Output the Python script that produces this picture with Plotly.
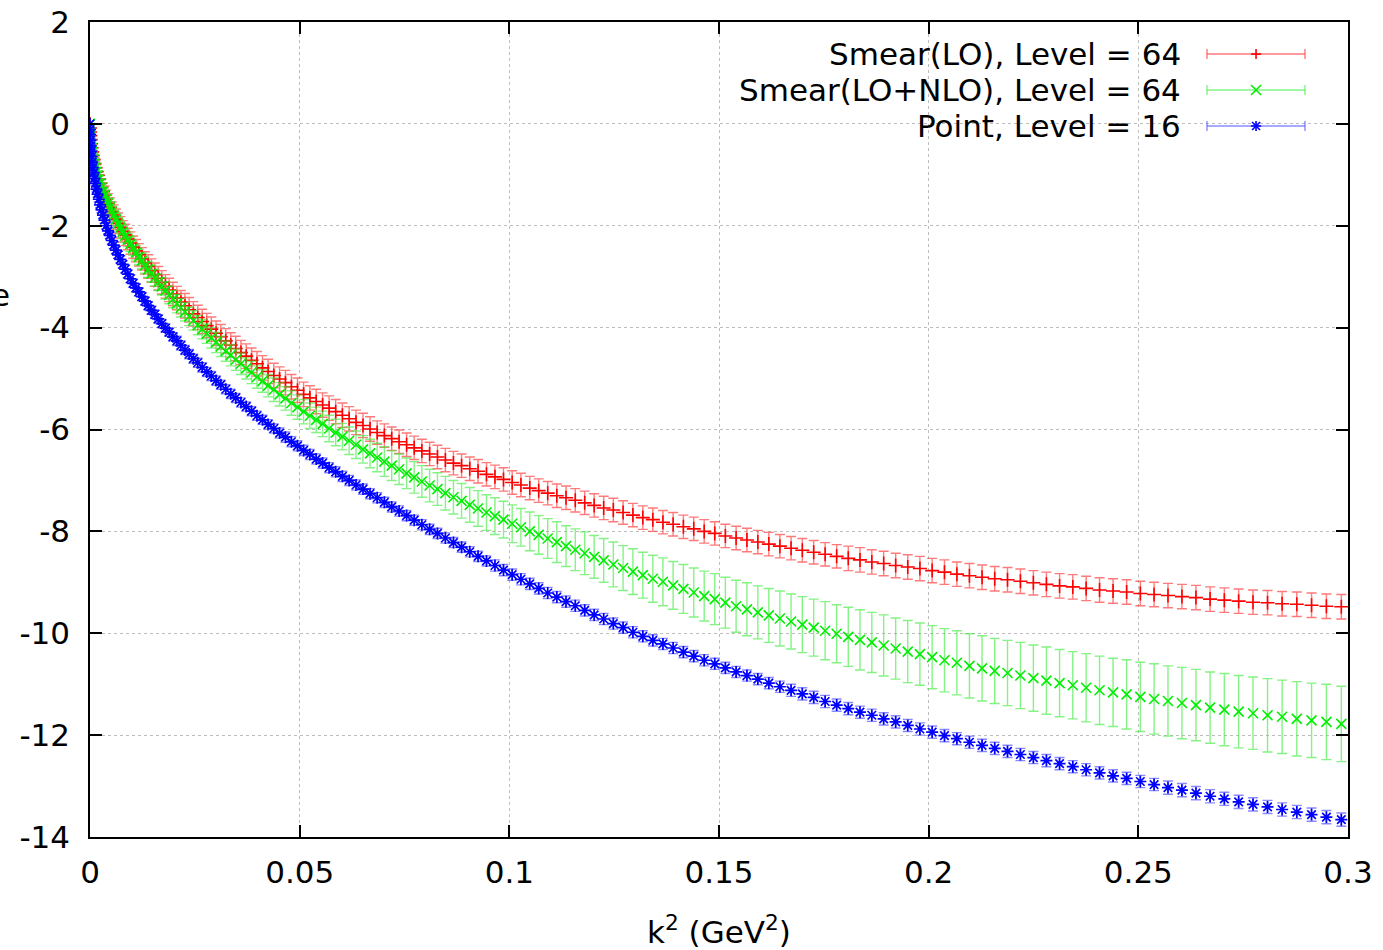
import plotly.graph_objects as go

# ---------------- data ----------------
k2 = [
    0.0, 0.00001, 0.00004, 0.0001, 0.00017, 0.00027, 0.00039, 0.00052, 0.00068, 0.00087,
    0.00107, 0.00129, 0.00154, 0.00181, 0.0021, 0.00241, 0.00274, 0.00309, 0.00347, 0.00386,
    0.00428, 0.00472, 0.00518, 0.00566, 0.00616, 0.00669, 0.00723, 0.0078, 0.00839, 0.009,
    0.00963, 0.01028, 0.01096, 0.01165, 0.01237, 0.01311, 0.01387, 0.01465, 0.01545, 0.01627,
    0.01712, 0.01799, 0.01887, 0.01978, 0.02072, 0.02167, 0.02264, 0.02364, 0.02465, 0.02569,
    0.02675, 0.02783, 0.02893, 0.03006, 0.0312, 0.03237, 0.03356, 0.03476, 0.03599, 0.03725,
    0.03852, 0.03981, 0.04113, 0.04247, 0.04383, 0.04521, 0.04661, 0.04803, 0.04948, 0.05094,
    0.05243, 0.05394, 0.05547, 0.05702, 0.05859, 0.06019, 0.0618, 0.06344, 0.0651, 0.06678,
    0.06848, 0.0702, 0.07195, 0.07371, 0.0755, 0.07731, 0.07914, 0.08099, 0.08286, 0.08475,
    0.08667, 0.08861, 0.09056, 0.09254, 0.09455, 0.09657, 0.09861, 0.10068, 0.10276, 0.10487,
    0.107, 0.10915, 0.11132, 0.11352, 0.11573, 0.11797, 0.12023, 0.1225, 0.1248, 0.12713,
    0.12947, 0.13183, 0.13422, 0.13663, 0.13906, 0.14151, 0.14398, 0.14647, 0.14899, 0.15152,
    0.15408, 0.15666, 0.15926, 0.16188, 0.16452, 0.16719, 0.16987, 0.17258, 0.17531, 0.17806,
    0.18083, 0.18362, 0.18644, 0.18927, 0.19213, 0.19501, 0.19791, 0.20083, 0.20377, 0.20673,
    0.20972, 0.21273, 0.21575, 0.2188, 0.22188, 0.22497, 0.22808, 0.23122, 0.23437, 0.23755,
    0.24075, 0.24397, 0.24721, 0.25048, 0.25376, 0.25707, 0.2604, 0.26374, 0.26711, 0.27051,
    0.27392, 0.27735, 0.28081, 0.28429, 0.28779, 0.29131, 0.29485, 0.29841,
]

smear_lo_y = [
    0.00, -0.08, -0.16, -0.23, -0.31, -0.39, -0.47, -0.55, -0.62, -0.70,
    -0.78, -0.86, -0.94, -1.01, -1.09, -1.17, -1.25, -1.33, -1.40, -1.48,
    -1.56, -1.64, -1.72, -1.79, -1.87, -1.95, -2.03, -2.11, -2.18, -2.26,
    -2.34, -2.42, -2.49, -2.57, -2.65, -2.73, -2.80, -2.88, -2.96, -3.03,
    -3.11, -3.19, -3.26, -3.34, -3.42, -3.50, -3.57, -3.65, -3.73, -3.80,
    -3.88, -3.96, -4.03, -4.11, -4.18, -4.26, -4.34, -4.41, -4.49, -4.56,
    -4.64, -4.71, -4.79, -4.86, -4.94, -5.01, -5.08, -5.16, -5.23, -5.31,
    -5.38, -5.45, -5.52, -5.58, -5.65, -5.72, -5.79, -5.86, -5.92, -5.99,
    -6.06, -6.12, -6.18, -6.24, -6.30, -6.36, -6.42, -6.48, -6.54, -6.60,
    -6.66, -6.71, -6.77, -6.82, -6.88, -6.93, -6.98, -7.04, -7.09, -7.15,
    -7.20, -7.25, -7.30, -7.34, -7.39, -7.44, -7.49, -7.54, -7.58, -7.63,
    -7.68, -7.73, -7.77, -7.82, -7.86, -7.91, -7.95, -8.00, -8.04, -8.09,
    -8.13, -8.17, -8.21, -8.25, -8.29, -8.33, -8.37, -8.41, -8.45, -8.49,
    -8.53, -8.56, -8.60, -8.63, -8.67, -8.70, -8.73, -8.77, -8.80, -8.84,
    -8.87, -8.90, -8.93, -8.95, -8.98, -9.01, -9.04, -9.07, -9.09, -9.12,
    -9.15, -9.17, -9.19, -9.22, -9.24, -9.26, -9.28, -9.30, -9.33, -9.35,
    -9.37, -9.39, -9.40, -9.42, -9.43, -9.45, -9.47, -9.48,
]
smear_lo_err = [
    0.00, 0.02, 0.04, 0.05, 0.06, 0.07, 0.08, 0.09, 0.10, 0.11,
    0.12, 0.13, 0.14, 0.15, 0.15, 0.16, 0.17, 0.17, 0.18, 0.18,
    0.19, 0.19, 0.19, 0.20, 0.20, 0.20, 0.21, 0.21, 0.21, 0.21,
    0.22, 0.22, 0.22, 0.22, 0.22, 0.22, 0.23, 0.23, 0.23, 0.23,
    0.23, 0.23, 0.23, 0.23, 0.23, 0.23, 0.24, 0.24, 0.24, 0.24,
    0.24, 0.24, 0.24, 0.24, 0.24, 0.24, 0.24, 0.24, 0.24, 0.24,
    0.24, 0.24, 0.24, 0.24, 0.24, 0.24, 0.24, 0.24, 0.24, 0.24,
    0.24, 0.24, 0.24, 0.24, 0.24, 0.24, 0.24, 0.24, 0.24, 0.24,
    0.23, 0.23, 0.23, 0.23, 0.23, 0.23, 0.23, 0.23, 0.23, 0.23,
    0.23, 0.23, 0.23, 0.23, 0.23, 0.23, 0.23, 0.23, 0.23, 0.23,
    0.23, 0.23, 0.23, 0.23, 0.23, 0.23, 0.23, 0.23, 0.23, 0.23,
    0.23, 0.23, 0.23, 0.23, 0.23, 0.23, 0.23, 0.23, 0.23, 0.23,
    0.23, 0.23, 0.23, 0.23, 0.23, 0.23, 0.23, 0.23, 0.23, 0.23,
    0.24, 0.24, 0.24, 0.24, 0.24, 0.24, 0.24, 0.24, 0.24, 0.24,
    0.24, 0.24, 0.24, 0.24, 0.24, 0.24, 0.24, 0.24, 0.24, 0.24,
    0.24, 0.24, 0.24, 0.24, 0.24, 0.24, 0.24, 0.24, 0.24, 0.24,
    0.24, 0.24, 0.24, 0.24, 0.24, 0.24, 0.24, 0.24,
]

smear_nlo_y = [
    0.00, -0.08, -0.16, -0.23, -0.31, -0.39, -0.47, -0.55, -0.62, -0.70,
    -0.78, -0.86, -0.94, -1.01, -1.09, -1.17, -1.25, -1.33, -1.40, -1.48,
    -1.56, -1.64, -1.72, -1.80, -1.88, -1.96, -2.04, -2.12, -2.20, -2.28,
    -2.36, -2.44, -2.53, -2.61, -2.69, -2.78, -2.86, -2.94, -3.02, -3.11,
    -3.19, -3.27, -3.36, -3.44, -3.53, -3.61, -3.69, -3.78, -3.86, -3.95,
    -4.03, -4.12, -4.20, -4.29, -4.37, -4.46, -4.54, -4.63, -4.71, -4.80,
    -4.88, -4.97, -5.05, -5.14, -5.22, -5.31, -5.39, -5.48, -5.56, -5.65,
    -5.73, -5.81, -5.89, -5.98, -6.06, -6.14, -6.22, -6.30, -6.39, -6.47,
    -6.55, -6.63, -6.71, -6.78, -6.86, -6.94, -7.02, -7.10, -7.17, -7.25,
    -7.33, -7.40, -7.48, -7.55, -7.63, -7.70, -7.77, -7.85, -7.92, -8.00,
    -8.07, -8.14, -8.21, -8.29, -8.36, -8.43, -8.50, -8.57, -8.65, -8.72,
    -8.79, -8.86, -8.93, -8.99, -9.06, -9.13, -9.20, -9.27, -9.33, -9.40,
    -9.47, -9.53, -9.59, -9.65, -9.71, -9.77, -9.83, -9.89, -9.95, -10.01,
    -10.07, -10.13, -10.18, -10.24, -10.30, -10.36, -10.41, -10.47, -10.53, -10.58,
    -10.64, -10.69, -10.74, -10.78, -10.83, -10.88, -10.93, -10.98, -11.02, -11.07,
    -11.12, -11.16, -11.20, -11.25, -11.29, -11.33, -11.37, -11.41, -11.46, -11.50,
    -11.54, -11.57, -11.61, -11.64, -11.68, -11.71, -11.74, -11.78,
]
smear_nlo_err = [
    0.00, 0.01, 0.02, 0.03, 0.03, 0.04, 0.04, 0.05, 0.05, 0.06,
    0.06, 0.07, 0.07, 0.08, 0.08, 0.08, 0.09, 0.09, 0.10, 0.10,
    0.10, 0.11, 0.11, 0.11, 0.12, 0.12, 0.12, 0.13, 0.13, 0.13,
    0.14, 0.14, 0.14, 0.15, 0.15, 0.15, 0.15, 0.16, 0.16, 0.16,
    0.17, 0.17, 0.17, 0.17, 0.18, 0.18, 0.18, 0.18, 0.19, 0.19,
    0.19, 0.19, 0.20, 0.20, 0.20, 0.20, 0.21, 0.21, 0.21, 0.21,
    0.22, 0.22, 0.22, 0.22, 0.23, 0.23, 0.23, 0.24, 0.24, 0.24,
    0.25, 0.25, 0.25, 0.26, 0.26, 0.26, 0.27, 0.27, 0.27, 0.28,
    0.28, 0.29, 0.29, 0.30, 0.30, 0.31, 0.31, 0.32, 0.32, 0.33,
    0.33, 0.34, 0.34, 0.35, 0.35, 0.36, 0.36, 0.37, 0.37, 0.38,
    0.38, 0.39, 0.40, 0.40, 0.41, 0.42, 0.42, 0.43, 0.44, 0.44,
    0.45, 0.45, 0.46, 0.47, 0.47, 0.48, 0.48, 0.49, 0.50, 0.50,
    0.51, 0.52, 0.52, 0.53, 0.54, 0.54, 0.55, 0.56, 0.57, 0.57,
    0.58, 0.59, 0.59, 0.60, 0.60, 0.61, 0.61, 0.62, 0.62, 0.63,
    0.63, 0.64, 0.64, 0.64, 0.65, 0.65, 0.66, 0.66, 0.66, 0.67,
    0.67, 0.67, 0.68, 0.68, 0.69, 0.69, 0.70, 0.70, 0.70, 0.71,
    0.71, 0.71, 0.72, 0.72, 0.73, 0.73, 0.74, 0.74,
]

point_y = [
    0.00, -0.11, -0.21, -0.32, -0.43, -0.54, -0.64, -0.75, -0.86, -0.96,
    -1.07, -1.17, -1.28, -1.38, -1.48, -1.59, -1.69, -1.79, -1.89, -2.00,
    -2.10, -2.19, -2.29, -2.38, -2.48, -2.57, -2.66, -2.76, -2.85, -2.95,
    -3.04, -3.13, -3.22, -3.30, -3.39, -3.48, -3.57, -3.66, -3.74, -3.83,
    -3.92, -4.01, -4.09, -4.18, -4.26, -4.35, -4.44, -4.52, -4.61, -4.69,
    -4.78, -4.87, -4.95, -5.04, -5.12, -5.21, -5.30, -5.38, -5.47, -5.55,
    -5.64, -5.73, -5.81, -5.90, -5.98, -6.07, -6.15, -6.24, -6.32, -6.41,
    -6.49, -6.58, -6.66, -6.75, -6.83, -6.92, -7.00, -7.09, -7.17, -7.26,
    -7.34, -7.43, -7.52, -7.60, -7.69, -7.78, -7.87, -7.96, -8.04, -8.13,
    -8.22, -8.31, -8.40, -8.49, -8.58, -8.67, -8.76, -8.85, -8.94, -9.03,
    -9.12, -9.21, -9.29, -9.38, -9.46, -9.55, -9.64, -9.72, -9.81, -9.89,
    -9.98, -10.06, -10.14, -10.21, -10.29, -10.37, -10.45, -10.53, -10.60, -10.68,
    -10.76, -10.83, -10.90, -10.98, -11.05, -11.12, -11.19, -11.26, -11.34, -11.41,
    -11.48, -11.55, -11.61, -11.68, -11.74, -11.81, -11.88, -11.94, -12.01, -12.07,
    -12.14, -12.20, -12.26, -12.32, -12.38, -12.44, -12.50, -12.56, -12.62, -12.68,
    -12.74, -12.80, -12.85, -12.91, -12.97, -13.03, -13.08, -13.14, -13.20, -13.25,
    -13.31, -13.36, -13.41, -13.46, -13.51, -13.56, -13.61, -13.66,
]
point_err = [
    0.00, 0.01, 0.01, 0.01, 0.02, 0.02, 0.02, 0.03, 0.03, 0.03,
    0.04, 0.04, 0.04, 0.05, 0.05, 0.05, 0.05, 0.06, 0.06, 0.06,
    0.06, 0.06, 0.07, 0.07, 0.07, 0.07, 0.07, 0.07, 0.08, 0.08,
    0.08, 0.08, 0.08, 0.08, 0.08, 0.08, 0.08, 0.08, 0.08, 0.08,
    0.08, 0.08, 0.08, 0.08, 0.09, 0.09, 0.09, 0.09, 0.09, 0.09,
    0.09, 0.09, 0.09, 0.09, 0.09, 0.09, 0.09, 0.09, 0.09, 0.09,
    0.09, 0.09, 0.09, 0.09, 0.09, 0.10, 0.10, 0.10, 0.10, 0.10,
    0.10, 0.10, 0.10, 0.10, 0.10, 0.10, 0.10, 0.10, 0.10, 0.10,
    0.10, 0.10, 0.10, 0.10, 0.10, 0.10, 0.10, 0.10, 0.10, 0.10,
    0.10, 0.10, 0.10, 0.10, 0.10, 0.11, 0.11, 0.11, 0.11, 0.11,
    0.11, 0.11, 0.11, 0.11, 0.11, 0.11, 0.11, 0.11, 0.11, 0.11,
    0.11, 0.11, 0.11, 0.11, 0.11, 0.11, 0.11, 0.11, 0.11, 0.11,
    0.11, 0.11, 0.11, 0.11, 0.11, 0.12, 0.12, 0.12, 0.12, 0.12,
    0.12, 0.12, 0.12, 0.12, 0.12, 0.12, 0.12, 0.12, 0.12, 0.12,
    0.12, 0.12, 0.12, 0.12, 0.12, 0.12, 0.12, 0.12, 0.12, 0.12,
    0.12, 0.12, 0.12, 0.12, 0.12, 0.13, 0.13, 0.13, 0.13, 0.13,
    0.13, 0.13, 0.13, 0.13, 0.13, 0.13, 0.13, 0.13,
]

series_names = ["Smear(LO), Level = 64", "Smear(LO+NLO), Level = 64", "Point, Level = 16"]

x_tickvals = [0, 0.05, 0.1, 0.15, 0.2, 0.25, 0.3]
x_ticktext = ["0", "0.05", "0.1", "0.15", "0.2", "0.25", "0.3"]
y_tickvals = [2, 0, -2, -4, -6, -8, -10, -12, -14]
y_ticktext = ["2", "0", "-2", "-4", "-6", "-8", "-10", "-12", "-14"]

x_title = "k<sup>2</sup> (GeV<sup>2</sup>)"
y_title_visible = "e"

# ---------------- styling ----------------
FONT = "DejaVu Sans"
FS = 31
styles = [
    dict(color="#ff0000", ecolor="rgba(255,50,50,0.65)", symbol="cross-thin", size=10, lw=1.6, cap=5),
    dict(color="#00ee00", ecolor="rgba(50,235,50,0.6)", symbol="x-thin", size=10, lw=1.6, cap=5),
    dict(color="#0000ff", ecolor="rgba(60,60,255,0.6)", symbol="asterisk", size=10, lw=1.7, cap=5),
]
values = [(smear_lo_y, smear_lo_err), (smear_nlo_y, smear_nlo_err), (point_y, point_err)]

fig = go.Figure()
for name, (yv, ev), st in zip(series_names, values, styles):
    fig.add_trace(go.Scatter(
        x=k2, y=yv, mode="markers", name=name, showlegend=False,
        marker=dict(symbol=st["symbol"], size=st["size"], color=st["color"],
                    line=dict(width=st["lw"], color=st["color"])),
        error_y=dict(type="data", array=ev, visible=True, color=st["ecolor"],
                     thickness=1.4, width=st["cap"]),
    ))

axis_common = dict(
    showline=True, linecolor="#000000", linewidth=1.5, mirror="ticks",
    ticks="inside", ticklen=12, tickwidth=1.5, tickcolor="#000000",
    showgrid=True, gridcolor="#bdbdbd", griddash="dot", gridwidth=1,
    zeroline=False, automargin=False,
    tickfont=dict(family=FONT, size=FS, color="#000000"),
)

fig.update_layout(
    width=1383, height=950,
    margin=dict(l=90, r=35, t=22, b=113),
    paper_bgcolor="white", plot_bgcolor="white",
    font=dict(family=FONT, size=FS, color="#000000"),
    xaxis=dict(range=[0, 0.3], tickmode="array", tickvals=x_tickvals, ticktext=x_ticktext,
               ticklabelstandoff=7, **axis_common),
    yaxis=dict(range=[-14, 2], tickmode="array", tickvals=y_tickvals, ticktext=y_ticktext,
               ticklabelstandoff=12, **axis_common),
)

shapes = []
# opaque key box (hides grid behind the key)
shapes.append(dict(type="rect", xref="x", yref="y", x0=0.131, x1=0.2996, y0=-0.40, y1=1.995,
                   fillcolor="white", line=dict(width=0), layer="below"))

annotations = [
    dict(text=x_title, xref="paper", yref="paper", x=0.5, y=-0.114, xanchor="center",
         yanchor="middle", showarrow=False, font=dict(family=FONT, size=FS)),
    dict(text=y_title_visible, xref="paper", yref="paper", x=-0.062, y=0.665, xanchor="right",
         yanchor="middle", showarrow=False, font=dict(family=FONT, size=FS)),
]

key_rows = [0.9607, 0.9166, 0.8724]
key_text_x = 0.8688
key_x0, key_x1, key_xm = 0.8879, 0.9658, 0.9269
for name, yc, st in zip(series_names, key_rows, styles):
    annotations.append(dict(text=name, xref="paper", yref="paper", x=key_text_x, y=yc,
                            xanchor="right", yanchor="middle", showarrow=False,
                            font=dict(family=FONT, size=FS)))
    ln = dict(color=st["ecolor"], width=1.4)
    shapes.append(dict(type="line", xref="paper", yref="paper", x0=key_x0, x1=key_x1,
                       y0=yc, y1=yc, line=ln))
    for xc in (key_x0, key_x1):
        shapes.append(dict(type="line", xref="paper", yref="paper", x0=xc, x1=xc,
                           ysizemode="pixel", yanchor=yc, y0=-5, y1=5, line=ln))
    mk = dict(color=st["color"], width=1.6)
    if st["symbol"] == "cross-thin":
        segs = [(-5, 0, 5, 0), (0, -5, 0, 5)]
    elif st["symbol"] == "x-thin":
        segs = [(-5, -5, 5, 5), (-5, 5, 5, -5)]
    else:
        segs = [(-4, -4, 4, 4), (-4, 4, 4, -4), (0, -5, 0, 5), (-5, 0, 5, 0)]
    for (a, b, c, d) in segs:
        shapes.append(dict(type="line", xref="paper", yref="paper",
                           xsizemode="pixel", xanchor=key_xm, x0=a, x1=c,
                           ysizemode="pixel", yanchor=yc, y0=b, y1=d, line=mk))

fig.update_layout(shapes=shapes, annotations=annotations)
fig.write_html("out.html")
